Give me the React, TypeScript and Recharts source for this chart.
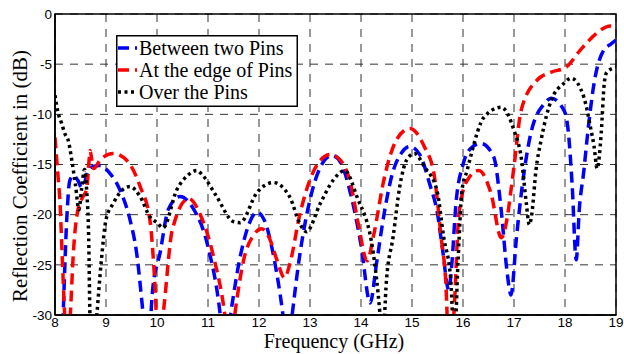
import { LineChart, Line, XAxis, YAxis, CartesianGrid, ReferenceArea, Legend } from "recharts";

// Between two Pins (blue)
const freqBetween = [8.12, 8.16, 8.23, 8.29, 8.36, 8.45, 8.52, 8.58, 8.65, 8.75, 8.88, 9.08, 9.27, 9.47, 9.6, 9.73, 9.81, 9.92, 10.06, 10.22, 10.45, 10.7, 11.0, 11.24, 11.32, 11.47, 11.6, 11.8, 11.96, 12.1, 12.3, 12.47, 12.56, 12.65, 12.8, 13.0, 13.2, 13.43, 13.6, 13.8, 14.0, 14.18, 14.3, 14.45, 14.6, 14.8, 14.96, 15.15, 15.35, 15.5, 15.6, 15.72, 15.78, 15.86, 16.0, 16.15, 16.35, 16.6, 16.75, 16.86, 16.94, 17.05, 17.16, 17.33, 17.6, 17.73, 17.98, 18.06, 18.14, 18.22, 18.28, 18.37, 18.43, 18.57, 18.76, 18.9, 19.0];
const valBetween = [-36, -30, -20.5, -16.6, -16.1, -16.6, -17.3, -16.8, -15.6, -15.2, -15.1, -15.9, -17.5, -20.5, -23.8, -30, -34, -27.2, -23.8, -19.5, -18.2, -19.3, -23.2, -30, -34, -29, -25, -21, -19.75, -20.5, -24.5, -30, -34, -30, -24, -18.5, -15.3, -14.1, -14.8, -18, -23, -28.8, -25, -20, -16.2, -13.8, -13.2, -14, -17, -19.9, -23.5, -27.5, -25, -19, -15, -13.4, -12.9, -14.2, -19.6, -25.5, -28, -22.2, -17.2, -11.9, -8.9, -8.4, -9.6, -11.5, -17, -24.5, -19.5, -15.6, -12.6, -6.9, -3.6, -3.0, -2.6];

// At the edge of Pins (red)
const freqEdge = [8.0, 8.05, 8.1, 8.14, 8.19, 8.24, 8.3, 8.36, 8.45, 8.55, 8.62, 8.67, 8.69, 8.72, 8.76, 8.88, 9.14, 9.41, 9.67, 9.86, 9.96, 10.03, 10.14, 10.3, 10.62, 10.85, 11.1, 11.33, 11.42, 11.55, 11.7, 11.9, 12.05, 12.2, 12.35, 12.5, 12.6, 12.8, 13.0, 13.2, 13.4, 13.6, 13.8, 13.95, 14.12, 14.25, 14.45, 14.7, 14.96, 15.24, 15.43, 15.57, 15.66, 15.73, 15.82, 15.92, 16.08, 16.31, 16.55, 16.75, 16.86, 16.94, 17.0, 17.14, 17.45, 17.73, 18.02, 18.3, 18.6, 18.8, 18.9, 19.0];
const valEdge = [-12.3, -15.6, -19, -24, -30, -34, -30, -23.8, -19.5, -18.2, -17.5, -14.5, -13.6, -14.5, -15.4, -14.6, -13.9, -14.6, -17.2, -20.5, -27, -34, -29, -21.5, -18.4, -20, -24, -30, -34, -29, -24.5, -22, -21.4, -22.3, -24.5, -26.3, -25, -20, -16.5, -14.6, -14.0, -14.6, -17, -21, -24.6, -22, -16.5, -12.5, -11.4, -13.2, -15.9, -22.2, -26.5, -34, -30, -19.9, -16.6, -15.6, -17.9, -22.3, -20.5, -17.6, -15.2, -9.6, -6.6, -5.8, -5.3, -3.6, -2.0, -1.3, -1.2, -1.6];

// Over the Pins (black)
const freqOver = [8.0, 8.05, 8.13, 8.2, 8.26, 8.33, 8.4, 8.47, 8.52, 8.58, 8.62, 8.66, 8.69, 8.75, 8.82, 8.91, 9.0, 9.14, 9.33, 9.47, 9.67, 9.86, 10.0, 10.12, 10.39, 10.6, 10.78, 10.9, 11.17, 11.5, 11.63, 11.96, 12.28, 12.6, 12.8, 12.93, 13.2, 13.45, 13.68, 13.92, 14.24, 14.37, 14.42, 14.5, 14.63, 14.76, 14.9, 15.05, 15.24, 15.49, 15.62, 15.76, 15.83, 15.9, 15.98, 16.08, 16.15, 16.41, 16.75, 17.0, 17.15, 17.24, 17.3, 17.35, 17.43, 17.53, 17.73, 17.98, 18.12, 18.37, 18.5, 18.57, 18.63, 18.71, 18.77, 18.82, 19.0];
const valOver = [-8.1, -9.6, -10.9, -12, -12.6, -14.6, -17, -19.5, -17.5, -15.5, -17.5, -22.2, -31, -34, -30, -24.5, -20.5, -18.9, -17.5, -17.2, -18.2, -20.2, -20.8, -21.3, -17.5, -16.1, -15.6, -16.1, -18.2, -20.7, -20.8, -17.8, -16.8, -18.2, -20.9, -21.7, -18.9, -16.6, -15.6, -18.2, -23.8, -29.8, -33, -26.5, -22.2, -17.2, -14.5, -13.9, -15.2, -17.6, -22.2, -26.5, -33, -25, -17.6, -15.6, -14.2, -10.3, -9.3, -11.6, -14.6, -18.8, -21.0, -19.9, -15.6, -12.6, -8.6, -6.9, -6.4, -8.3, -11.3, -13.2, -15.4, -11.9, -6.9, -5.8, -5.3];

const xTicks = [8, 9, 10, 11, 12, 13, 14, 15, 16, 17, 18, 19];
const yTicks = [-30, -25, -20, -15, -10, -5, 0];

const seriesNames = ["Between two Pins", "At the edge of Pins", "Over the Pins"];

const between = freqBetween.map((f, i) => ({ f, v: valBetween[i] }));
const edge = freqEdge.map((f, i) => ({ f, v: valEdge[i] }));
const over = freqOver.map((f, i) => ({ f, v: valOver[i] }));

const serif = "'Liberation Serif', 'Times New Roman', serif";
const sans = "'Liberation Sans', Arial, sans-serif";

const styles = [
  { color: "#0000ff", dash: "11 6" },
  { color: "#ff0000", dash: "11 6" },
  { color: "#000000", dash: "3 3.5" },
];

function XTitle() {
  return (
    <text x={334} y={348} textAnchor="middle" fontFamily={serif} fontSize={20} fill="#000">
      Frequency (GHz)
    </text>
  );
}

function YTitle() {
  return (
    <text x={27} y={176} transform="rotate(-90 27 176)" textAnchor="middle" fontFamily={serif} fontSize={21} fill="#000">
      Reflection Coefficient in (dB)
    </text>
  );
}

function LegendBox() {
  return (
    <svg width={182} height={72} style={{ display: "block" }}>
      <rect x={0.75} y={0.75} width={180.5} height={70.5} fill="#fff" stroke="#000" strokeWidth={1.5} />
      {seriesNames.map((name, i) => (
        <g key={name}>
          <line x1={2} x2={21} y1={13 + i * 22} y2={13 + i * 22} stroke={styles[i].color} strokeWidth={3.5} strokeDasharray={styles[i].dash} />
          <text x={23} y={19.5 + i * 22} fontFamily={serif} fontSize={20} fill="#000">
            {name}
          </text>
        </g>
      ))}
    </svg>
  );
}

export default function App() {
  return (
    <div style={{ position: "absolute", left: 0, top: 0, background: "#fff" }}>
      <LineChart width={624} height={354} margin={{ top: 14, right: 8, bottom: 0, left: 0 }}>
        <CartesianGrid stroke="#333" strokeDasharray="8 7" strokeWidth={1} />
        <XAxis
          dataKey="f"
          type="number"
          domain={[8, 19]}
          ticks={xTicks}
          allowDataOverflow
          height={39}
          tickLine={false}
          tickSize={1}
          tickMargin={1}
          axisLine={{ stroke: "#000", strokeWidth: 1.5 }}
          tick={{ fontSize: 13.5, fill: "#000", fontFamily: sans }}
          label={<XTitle />}
        />
        <YAxis
          type="number"
          domain={[-30, 0]}
          ticks={yTicks}
          allowDataOverflow
          width={55}
          tickLine={false}
          tickSize={1}
          tickMargin={2}
          axisLine={{ stroke: "#000", strokeWidth: 1.5 }}
          tick={{ fontSize: 13.5, fill: "#000", fontFamily: sans }}
          label={<YTitle />}
        />
        <ReferenceArea x1={8} x2={19} y1={-30} y2={0} fill="none" stroke="#000" strokeWidth={1.5} />
        <Line data={between} dataKey="v" name={seriesNames[0]} type="monotone" stroke={styles[0].color} strokeWidth={3.5} strokeDasharray={styles[0].dash} dot={false} isAnimationActive={false} />
        <Line data={edge} dataKey="v" name={seriesNames[1]} type="monotone" stroke={styles[1].color} strokeWidth={3.5} strokeDasharray={styles[1].dash} dot={false} isAnimationActive={false} />
        <Line data={over} dataKey="v" name={seriesNames[2]} type="monotone" stroke={styles[2].color} strokeWidth={3.5} strokeDasharray={styles[2].dash} dot={false} isAnimationActive={false} />
        <Legend
          layout="vertical"
          align="center"
          verticalAlign="middle"
          content={() => <LegendBox />}
          wrapperStyle={{ position: "absolute", left: 116, top: 35, width: 182, height: 72 }}
        />
      </LineChart>
    </div>
  );
}
